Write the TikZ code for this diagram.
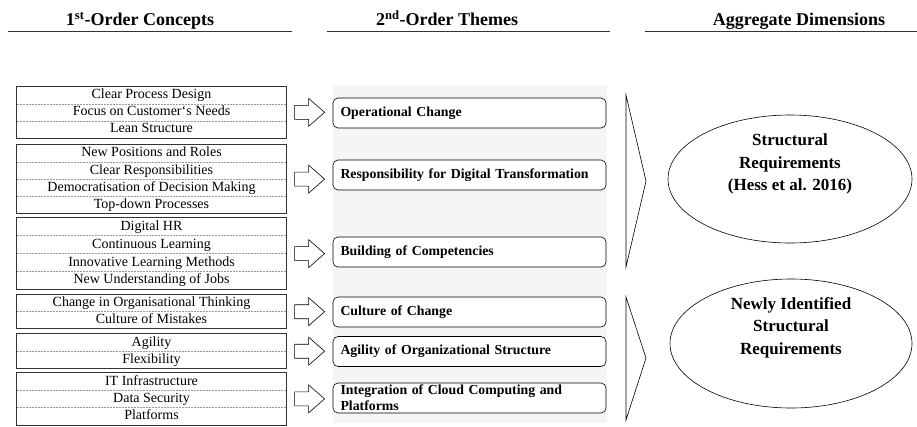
\documentclass[tikz,border=0pt]{standalone}
\usepackage{fontspec}
\setmainfont{Liberation Serif}
\usetikzlibrary{positioning}
\usetikzlibrary{fit}
\usetikzlibrary{calc}
\usetikzlibrary{shapes.geometric}

\begin{document}
\begin{tikzpicture}[x=1pt, y=-1pt,
    colhead/.style={font=\fontsize{18}{20}\selectfont\bfseries, anchor=base, inner sep=0pt},
    headline/.style={line width=0.8pt, black!80},
    concept/.style={minimum width=269pt, minimum height=#1, inner sep=0pt, text height=9.5pt, text depth=2.5pt, font=\fontsize{14}{16}\selectfont},
    rowsep/.style={black!40, dash pattern=on 2pt off 1pt, line width=0.5pt},
    cgroup/.style={draw=black!80, line width=0.8pt, inner sep=0pt},
    blockarrow/.style={draw, fill=white, line width=0.6pt, line join=miter},
    theme/.style={draw, fill=white, rounded corners=5pt, line width=0.6pt, minimum width=273pt, minimum height=30pt, text width=258pt, inner xsep=7.5pt, inner ysep=0pt, align=left, font=\fontsize{13.8}{16}\selectfont\bfseries},
    dim/.style={draw, ellipse, line width=0.6pt, inner sep=0pt},
    dimtext/.style={align=center, inner sep=0pt, font=\fontsize{17}{22.5}\selectfont\bfseries}]
    \useasboundingbox (0,0) rectangle (917,426);

    % column heads
    \node[colhead] (h1) at (140, 25.5) {1\textsuperscript{st}-Order Concepts};
    \node[colhead] (h2) at (447, 25.5) {2\textsuperscript{nd}-Order Themes};
    \node[colhead] (h3) at (799, 25.5) {Aggregate Dimensions};
    \draw[headline] (8,31) -- (292,31);
    \draw[headline] (327,31) -- (610,31);
    \draw[headline] (645,31) -- (917,31);

    % 1st-order concepts
    \node[concept=16.67pt] (r11) at (151.5, 95.3) {Clear Process Design};
    \node[concept=16.67pt, below=0pt of r11] (r12) {Focus on Customer‘s Needs};
    \node[concept=16.67pt, below=0pt of r12] (r13) {Lean Structure};

    \node[concept=16.75pt] (r21) at (151.5, 153.4) {New Positions and Roles};
    \node[concept=16.75pt, below=0pt of r21] (r22) {Clear Responsibilities};
    \node[concept=16.75pt, below=0pt of r22] (r23) {Democratisation of Decision Making};
    \node[concept=16.75pt, below=0pt of r23] (r24) {Top-down Processes};

    \node[concept=17.5pt] (r31) at (151.5, 226.75) {Digital HR};
    \node[concept=17.5pt, below=0pt of r31] (r32) {Continuous Learning};
    \node[concept=17.5pt, below=0pt of r32] (r33) {Innovative Learning Methods};
    \node[concept=17.5pt, below=0pt of r33] (r34) {New Understanding of Jobs};

    \node[concept=16.5pt] (r41) at (151.5, 303.25) {Change in Organisational Thinking};
    \node[concept=16.5pt, below=0pt of r41] (r42) {Culture of Mistakes};

    \node[concept=17pt] (r51) at (151.5, 342.5) {Agility};
    \node[concept=17pt, below=0pt of r51] (r52) {Flexibility};

    \node[concept=17pt] (r61) at (151.5, 381.5) {IT Infrastructure};
    \node[concept=17pt, below=0pt of r61] (r62) {Data Security};
    \node[concept=17pt, below=0pt of r62] (r63) {Platforms};

    \draw[rowsep] (r11.south west) -- (r11.south east);
    \draw[rowsep] (r12.south west) -- (r12.south east);
    \draw[rowsep] (r21.south west) -- (r21.south east);
    \draw[rowsep] (r22.south west) -- (r22.south east);
    \draw[rowsep] (r23.south west) -- (r23.south east);
    \draw[rowsep] (r31.south west) -- (r31.south east);
    \draw[rowsep] (r32.south west) -- (r32.south east);
    \draw[rowsep] (r33.south west) -- (r33.south east);
    \draw[rowsep] (r41.south west) -- (r41.south east);
    \draw[rowsep] (r51.south west) -- (r51.south east);
    \draw[rowsep] (r61.south west) -- (r61.south east);
    \draw[rowsep] (r62.south west) -- (r62.south east);

    \node[cgroup, fit=(r11)(r13)] (c1) {};
    \node[cgroup, fit=(r21)(r24)] (c2) {};
    \node[cgroup, fit=(r31)(r34)] (c3) {};
    \node[cgroup, fit=(r41)(r42)] (c4) {};
    \node[cgroup, fit=(r51)(r52)] (c5) {};
    \node[cgroup, fit=(r61)(r63)] (c6) {};

    % block arrows
    \foreach \g in {c1,c2,c3,c4,c5,c6}
        \draw[blockarrow] ($(\g.east)+(8,-7)$) -- ++(14,0) -- ++(0,-7) -- ++(16,14)
            -- ++(-16,14) -- ++(0,-7) -- ++(-14,0) -- cycle;

    % 2nd-order themes
    \fill[black!4] (333,85) rectangle (607,423);
    \node[theme] (t1) at (469.5, 113) {Operational Change};
    \node[theme] (t2) at (469.5, 175) {Responsibility for Digital Transformation};
    \node[theme] (t3) at (469.5, 252) {Building of Competencies};
    \node[theme] (t4) at (469.5, 312) {Culture of Change};
    \node[theme] (t5) at (469.5, 351.5) {Agility of Organizational Structure};
    \node[theme] (t6) at (469.5, 398) {Integration of Cloud Computing and\\Platforms};

    % aggregate dimensions
    \draw[line width=0.6pt] (626,95) -- (646,181) -- (626,267) -- cycle;
    \draw[line width=0.6pt] (626,297) -- (646,358) -- (626,420) -- cycle;

    \node[dim, minimum width=244pt, minimum height=128pt] (d1) at (790,179) {};
    \node[dimtext] (d1text) at ($(d1.center)+(0,-15)$) {Structural\\Requirements\\(Hess et al. 2016)};
    \node[dim, minimum width=242pt, minimum height=129pt] (d2) at (791,343.5) {};
    \node[dimtext] (d2text) at ($(d2.center)+(0,-16)$) {Newly Identified\\Structural\\Requirements};
\end{tikzpicture}
\end{document}
